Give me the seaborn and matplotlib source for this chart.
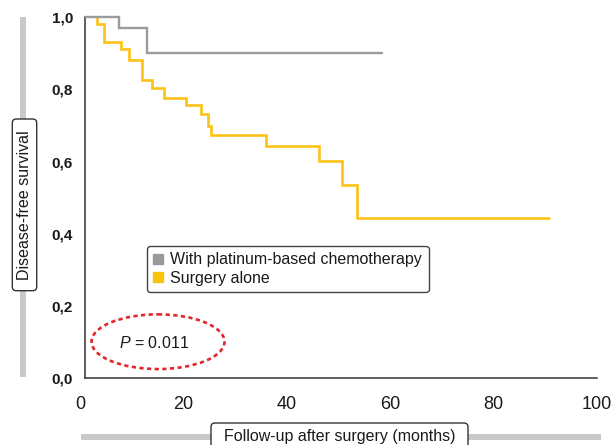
import numpy as np
import pandas as pd
import matplotlib
matplotlib.use("Agg")
import matplotlib.pyplot as plt
import seaborn as sns
from matplotlib.patches import Ellipse, FancyBboxPatch, Rectangle
from matplotlib.lines import Line2D
from matplotlib.transforms import Affine2D

# ---------------- data ----------------
groups = ["With platinum-based chemotherapy", "Surgery alone"]
chemo_months = [0.0, 7.5, 12.9, 58.4]
chemo_survival = [1.0, 0.971, 0.900, 0.900]
surgery_months = [3.2, 3.2, 4.7, 7.9, 9.5, 12.0, 13.9, 16.3, 20.5, 23.5,
                  24.8, 25.3, 35.9, 46.2, 50.6, 53.6, 90.7]
surgery_survival = [1.0, 0.980, 0.932, 0.911, 0.881, 0.826, 0.803, 0.777,
                    0.756, 0.731, 0.698, 0.673, 0.643, 0.601, 0.536, 0.445, 0.445]
x_ticks = [0, 20, 40, 60, 80, 100]
y_ticks = [0.0, 0.2, 0.4, 0.6, 0.8, 1.0]
y_tick_labels = ["0,0", "0,2", "0,4", "0,6", "0,8", "1,0"]
x_label = "Follow-up after surgery (months)"
y_label = "Disease-free survival"
p_value = "0.011"
palette = {groups[0]: "#9b9b9b", groups[1]: "#fdc216"}
legend_colors = ["#9a9a9a", "#f7c30f"]

df = pd.concat([
    pd.DataFrame({"months": chemo_months, "survival": chemo_survival, "group": groups[0]}),
    pd.DataFrame({"months": surgery_months, "survival": surgery_survival, "group": groups[1]}),
], ignore_index=True)

# ---------------- style ----------------
sns.set_style("white")
plt.rcParams["font.family"] = ["Liberation Sans", "DejaVu Sans"]
plt.rcParams["mathtext.fontset"] = "custom"
plt.rcParams["mathtext.it"] = "Liberation Sans:italic"
plt.rcParams["mathtext.rm"] = "Liberation Sans"

W, H = 616, 445
fig = plt.figure(figsize=(W / 100, H / 100), dpi=100)
fig.patch.set_facecolor("white")
# pixel transform (origin top-left)
pix = Affine2D().scale(1 / W, -1 / H).translate(0, 1) + fig.transFigure

ax_left, ax_right, ax_top, ax_bottom = 80.0, 597.0, 17.1, 378.3
ax = fig.add_axes([ax_left / W, (H - ax_bottom) / H,
                   (ax_right - ax_left) / W, (ax_bottom - ax_top) / H])
ax.set_facecolor("none")

sns.lineplot(data=df, x="months", y="survival", hue="group", hue_order=groups,
             palette=palette, drawstyle="steps-post", estimator=None, sort=False,
             legend=False, ax=ax)
spine_x = 0.9  # the y axis line sits slightly right of month 0
clip = Rectangle((spine_x, -0.1), 120, 1.3, transform=ax.transData)
for ln, lw in zip(ax.lines, [1.7, 1.9]):
    ln.set_linewidth(lw)
    ln.set_clip_path(clip)
    ln.set_solid_joinstyle("miter")
ax.lines[0].set_zorder(3)

ax.set_xlim(0, 100)
ax.set_ylim(0, 1)
ax.set_xticks(x_ticks)
ax.set_yticks(y_ticks, y_tick_labels)
ax.set_xlabel("")
ax.set_ylabel("")
for s in ["top", "right"]:
    ax.spines[s].set_visible(False)
for s in ["left", "bottom"]:
    ax.spines[s].set_color("#333333")
    ax.spines[s].set_linewidth(1.1)
ax.spines["left"].set_position(("data", spine_x))
ax.spines["bottom"].set_bounds(spine_x, 100)
ax.tick_params(axis="x", direction="in", length=7.5, width=1.0, color="#444444",
               labelsize=13, pad=13, labelcolor="#1a1a1a")
ax.tick_params(axis="y", direction="in", length=8.5, width=1.0, color="#444444",
               labelsize=11, pad=8.4, labelcolor="#1a1a1a")
for t in ax.get_yticklabels():
    t.set_fontweight("bold")
ax.xaxis.get_major_ticks()[0].tick1line.set_visible(False)

# ---------------- y label with bar ----------------
fig.add_artist(Rectangle((20.3, 17), 5.6, 360, transform=pix,
                         facecolor="#c9c9c9", edgecolor="none", zorder=1))
fig.add_artist(FancyBboxPatch((12.3, 119), 24.4, 171.7,
                              boxstyle="round,pad=0,rounding_size=4", transform=pix,
                              facecolor="white", edgecolor="#333333", linewidth=1.0, zorder=2))
fig.text(24.5, 205, y_label, transform=pix, rotation=90, ha="center", va="center",
         fontsize=11.5, color="#1a1a1a", zorder=3)

# ---------------- x label with bar ----------------
fig.add_artist(Rectangle((81, 434), 520, 5.6, transform=pix,
                         facecolor="#c9c9c9", edgecolor="none", zorder=1))
fig.add_artist(FancyBboxPatch((211, 423), 257, 30,
                              boxstyle="round,pad=0,rounding_size=4", transform=pix,
                              facecolor="white", edgecolor="#333333", linewidth=1.0, zorder=2))
fig.text(339.5, 437, x_label, transform=pix, ha="center", va="center",
         fontsize=11.5, color="#1a1a1a", zorder=3)

# ---------------- legend ----------------
handles = [Line2D([], [], linestyle="none", marker="s", markersize=6.5,
                  markerfacecolor=c, markeredgecolor=c) for c in legend_colors]
leg = ax.legend(handles, groups, loc="upper left",
                bbox_to_anchor=(146.7 / W, 1 - 245.7 / H), bbox_transform=fig.transFigure,
                borderaxespad=0, fontsize=11.5, frameon=True, fancybox=True,
                borderpad=0.42, handlelength=0.6, handletextpad=0.45,
                labelspacing=0.2, handleheight=0.7)
fr = leg.get_frame()
fr.set_edgecolor("#444444")
fr.set_linewidth(1.0)
fr.set_alpha(1)
for t in leg.get_texts():
    t.set_color("#1a1a1a")

# ---------------- P value ----------------
fig.add_artist(Ellipse((158, 341.7), 133, 54.7, transform=pix, fill=False,
                       edgecolor="#e3262c", linewidth=1.9, linestyle=(0, (1.6, 1.3))))
fig.text(154, 343, r"$P$ = " + p_value, transform=pix, ha="center", va="center",
         fontsize=11.5, color="#1a1a1a")

fig.savefig("out.png", dpi=100, facecolor="white")
